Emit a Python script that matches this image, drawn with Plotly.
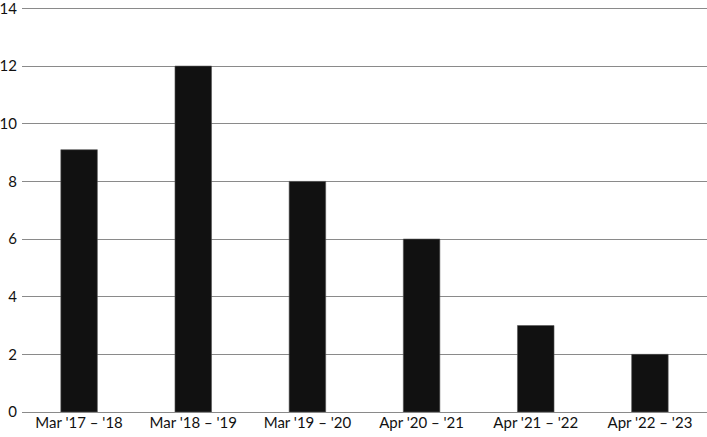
import plotly.graph_objects as go

# data
periods = ["Mar '17 – '18", "Mar '18 – '19", "Mar '19 – '20",
           "Apr '20 – '21", "Apr '21 – '22", "Apr '22 – '23"]
counts = [9.1, 12, 8, 6, 3, 2]
y_ticks = [0, 2, 4, 6, 8, 10, 12, 14]

fig = go.Figure()
fig.add_trace(go.Bar(x=periods, y=counts, width=0.32,
                     marker=dict(color='#111111', line=dict(color='#555555', width=0.6)),
                     showlegend=False))

fig.update_layout(
    width=707, height=437,
    margin=dict(l=22, r=0, t=7, b=25, autoexpand=False),
    paper_bgcolor='white', plot_bgcolor='white',
    font=dict(family='Lato, Noto Sans, sans-serif', size=15, color='#111111'),
)
fig.update_xaxes(showgrid=False, ticks='', showline=False, automargin=False,
                 tickfont=dict(size=15))
fig.update_yaxes(range=[0, 14.05], tickvals=y_ticks, showgrid=True, gridcolor='#8a8a8a',
                 gridwidth=1, zeroline=True, zerolinecolor='#8a8a8a', zerolinewidth=1,
                 ticks='', ticklabelstandoff=4, automargin=False, ticklabeloverflow='allow',
                 tickfont=dict(size=15))

# drop the page's default body margin so the figure sits at the window corner
fig.write_html("out.html", config={'displayModeBar': False},
               post_script="document.body.style.margin='0';")
